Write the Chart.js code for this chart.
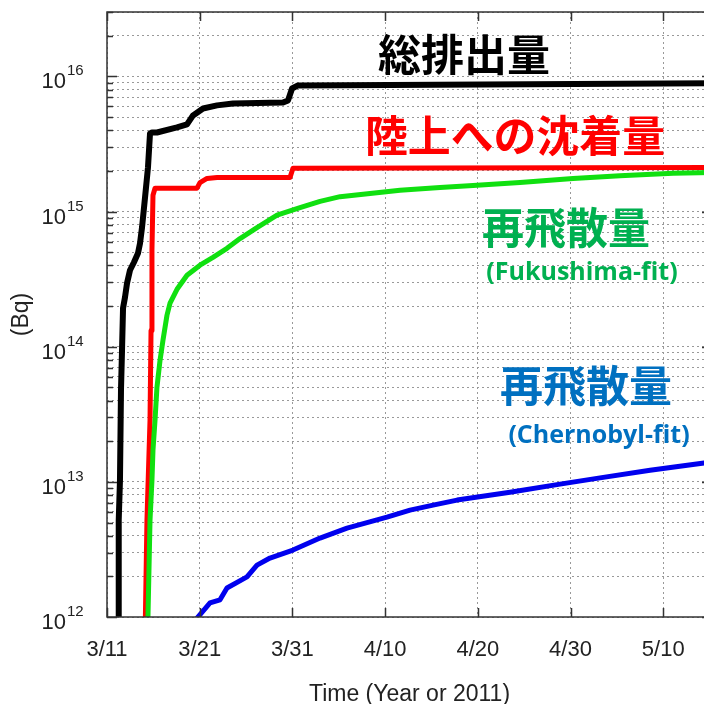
<!DOCTYPE html>
<html>
<head>
<meta charset="utf-8">
<style>
  html, body { margin: 0; padding: 0; overflow: hidden; background: #fff; }
  #wrap { width: 720px; height: 704px; }
</style>
<script src="https://cdn.jsdelivr.net/npm/chart.js@4.4.0/dist/chart.umd.min.js"></script>
</head>
<body>
<div id="wrap"><canvas id="myChart" width="720" height="704"></canvas></div>
<script>
// days after 3/11 (2011), values in Bq
var xTickDays = [0, 10, 20, 30, 40, 50, 60];
var xTickLabels = ["3/11", "3/21", "3/31", "4/10", "4/20", "4/30", "5/10"];
var yExponents = [12, 13, 14, 15, 16];

var totalDays = [1.19, 1.24, 1.29, 1.40, 1.51, 1.62, 1.73, 1.94, 2.16, 2.48, 2.91, 3.34, 3.56, 3.78, 4.10, 4.42, 4.64, 4.85, 5.39, 7.55, 8.63, 9.28, 10.36, 11.87, 13.59, 18.99, 19.53, 19.96, 20.60, 66];
var totalVals = [6e11, 1.34e12, 5.2e12, 1.03e13, 4.8e13, 9.4e13, 1.93e14, 2.32e14, 2.95e14, 3.68e14, 4.22e14, 4.91e14, 5.82e14, 7.66e14, 1.27e15, 2.12e15, 3.79e15, 3.85e15, 3.85e15, 4.20e15, 4.42e15, 5.15e15, 5.79e15, 6.11e15, 6.31e15, 6.41e15, 6.65e15, 8.15e15, 8.59e15, 8.9e15];

var landDays = [4.10, 4.31, 4.64, 4.75, 4.85, 4.96, 5.18, 9.71, 10.03, 10.79, 11.87, 19.74, 20.06, 66];
var landVals = [6.8e11, 5.2e12, 2.86e13, 1.32e14, 5.18e14, 1.32e15, 1.49e15, 1.49e15, 1.64e15, 1.76e15, 1.79e15, 1.79e15, 2.09e15, 2.12e15];

var fukuDays = [4.31, 4.42, 4.64, 4.85, 4.96, 5.18, 5.39, 5.72, 6.04, 6.47, 6.80, 7.55, 8.63, 10.03, 11.43, 12.94, 14.35, 16.18, 18.34, 20.82, 22.98, 25.14, 28.37, 31.61, 35.92, 39.48, 44.55, 50.27, 55.34, 61.06, 66];
var fukuVals = [6.8e11, 1.0e12, 5.2e12, 1.03e13, 1.72e13, 2.86e13, 5.02e13, 7.94e13, 1.12e14, 1.71e14, 2.10e14, 2.66e14, 3.38e14, 4.01e14, 4.59e14, 5.35e14, 6.32e14, 7.62e14, 9.40e14, 1.07e15, 1.19e15, 1.29e15, 1.36e15, 1.44e15, 1.51e15, 1.56e15, 1.64e15, 1.76e15, 1.84e15, 1.92e15, 1.95e15];

var chernDays = [9.06, 11.11, 12.19, 12.94, 15.10, 16.18, 17.58, 20.06, 22.98, 25.89, 30.20, 32.69, 35.17, 37.76, 43.47, 48.87, 53.18, 58.58, 64.40, 66];
var chernVals = [8.7e11, 1.27e12, 1.34e12, 1.64e12, 1.98e12, 2.42e12, 2.73e12, 3.13e12, 3.84e12, 4.55e12, 5.48e12, 6.18e12, 6.73e12, 7.33e12, 8.39e12, 9.62e12, 1.07e13, 1.22e13, 1.38e13, 1.40e13];

function pts(days, vals) {
  return days.map((d, i) => ({ x: d, y: vals[i] }));
}

var notes = [
  { text: "総排出量", color: "#000", x: 464, y: 55, font: 'bold 43px "Noto Sans CJK JP"', w: 172 },
  { text: "陸上への沈着量", color: "#f00", x: 515, y: 136, font: 'bold 43px "Noto Sans CJK JP"', w: 300 },
  { text: "再飛散量", color: "#00b050", x: 566, y: 228, font: 'bold 43px "Noto Sans CJK JP"', w: 168 },
  { text: "(Fukushima-fit)", color: "#00b050", x: 582, y: 273, font: 'bold 25px "Open Sans"', w: 207 },
  { text: "再飛散量", color: "#0070c0", x: 586, y: 386, font: 'bold 43px "Noto Sans CJK JP"', w: 172 },
  { text: "(Chernobyl-fit)", color: "#0070c0", x: 599, y: 436, font: 'bold 25px "Open Sans"', w: 202 }
];

var decor = {
  id: "decor",
  afterDraw(chart) {
    let ctx = chart.ctx;
    let a = chart.chartArea;
    let xs = chart.scales.x, ys = chart.scales.y;
    ctx.save();
    ctx.strokeStyle = "#333";
    ctx.lineWidth = 1.5;
    ctx.strokeRect(a.left, a.top, a.right - a.left, a.bottom - a.top);
    ctx.beginPath();
    xs.ticks.forEach((t) => {
      let px = Math.round(xs.getPixelForValue(t.value)) + 0.5;
      ctx.moveTo(px, a.bottom); ctx.lineTo(px, a.bottom - 9);
      ctx.moveTo(px, a.top); ctx.lineTo(px, a.top + 9);
    });
    ys.ticks.forEach((t) => {
      let py = Math.round(ys.getPixelForValue(t.value)) + 0.5;
      let len = Math.abs(Math.log10(t.value) % 1) < 1e-6 ? 10 : 6;
      ctx.moveTo(a.left, py); ctx.lineTo(a.left + len, py);
      ctx.moveTo(a.right, py); ctx.lineTo(a.right - len, py);
    });
    ctx.stroke();

    ctx.fillStyle = "#222";
    ctx.textBaseline = "alphabetic";
    yExponents.forEach((e) => {
      let py = ys.getPixelForValue(Math.pow(10, e));
      ctx.font = '22px "Liberation Sans"';
      ctx.textAlign = "right";
      ctx.fillText("10", 66, py + 12);
      ctx.font = '15px "Liberation Sans"';
      ctx.textAlign = "left";
      ctx.fillText(String(e), 67, py - 1);
    });

    ctx.textAlign = "center";
    ctx.textBaseline = "middle";
    notes.forEach((n) => {
      ctx.font = n.font;
      ctx.fillStyle = n.color;
      ctx.fillText(n.text, n.x, n.y, n.w);
    });
    ctx.restore();
  }
};

Chart.defaults.font.family = '"Liberation Sans", Arial, sans-serif';
Chart.defaults.color = "#222";

var ctx = document.getElementById("myChart").getContext("2d");
var myChart = new Chart(ctx, {
  type: "line",
  data: {
    datasets: [
      { label: "総排出量", data: pts(totalDays, totalVals), borderColor: "#000", borderWidth: 6 },
      { label: "再飛散量 (Fukushima-fit)", data: pts(fukuDays, fukuVals), borderColor: "#10e010", borderWidth: 5 },
      { label: "陸上への沈着量", data: pts(landDays, landVals), borderColor: "#ff0000", borderWidth: 5 },
      { label: "再飛散量 (Chernobyl-fit)", data: pts(chernDays, chernVals), borderColor: "#0000ee", borderWidth: 5 }
    ]
  },
  options: {
    responsive: false,
    animation: false,
    layout: { padding: { top: 12, right: 8, left: 0, bottom: 0 } },
    elements: {
      point: { radius: 0 },
      line: { tension: 0, borderJoinStyle: "round", fill: false }
    },
    plugins: { legend: { display: false }, tooltip: { enabled: false } },
    scales: {
      x: {
        type: "linear",
        min: 0,
        max: 65.26,
        afterBuildTicks: (s) => { s.ticks = xTickDays.map((v) => ({ value: v })); },
        afterFit: (s) => { s.height = 87; },
        ticks: {
          autoSkip: false,
          maxRotation: 0,
          padding: 20,
          font: { size: 22 },
          color: "#222",
          callback: (v, i) => xTickLabels[i]
        },
        grid: { color: "#999", drawTicks: false },
        border: { display: false, dash: [2, 3] },
        title: {
          display: true,
          text: "Time (Year or 2011)",
          font: { size: 23, lineHeight: 0.8 },
          padding: { top: 0, bottom: 0 },
          color: "#222"
        }
      },
      y: {
        type: "logarithmic",
        min: 1e12,
        max: 3e16,
        afterBuildTicks: (s) => {
          let t = [];
          yExponents.forEach((e) => {
            for (let m = 1; m <= 9; m++) {
              let v = m * Math.pow(10, e);
              if (v <= 3e16) t.push({ value: v });
            }
          });
          s.ticks = t;
        },
        afterFit: (s) => { s.width = 107; },
        ticks: { display: false },
        grid: { color: "#999", drawTicks: false },
        border: { display: false, dash: [2, 3] },
        title: {
          display: true,
          text: "(Bq)",
          font: { size: 23, lineHeight: 1 },
          padding: { top: 10, bottom: 0 },
          color: "#222"
        }
      }
    }
  },
  plugins: [decor]
});
</script>
</body>
</html>
